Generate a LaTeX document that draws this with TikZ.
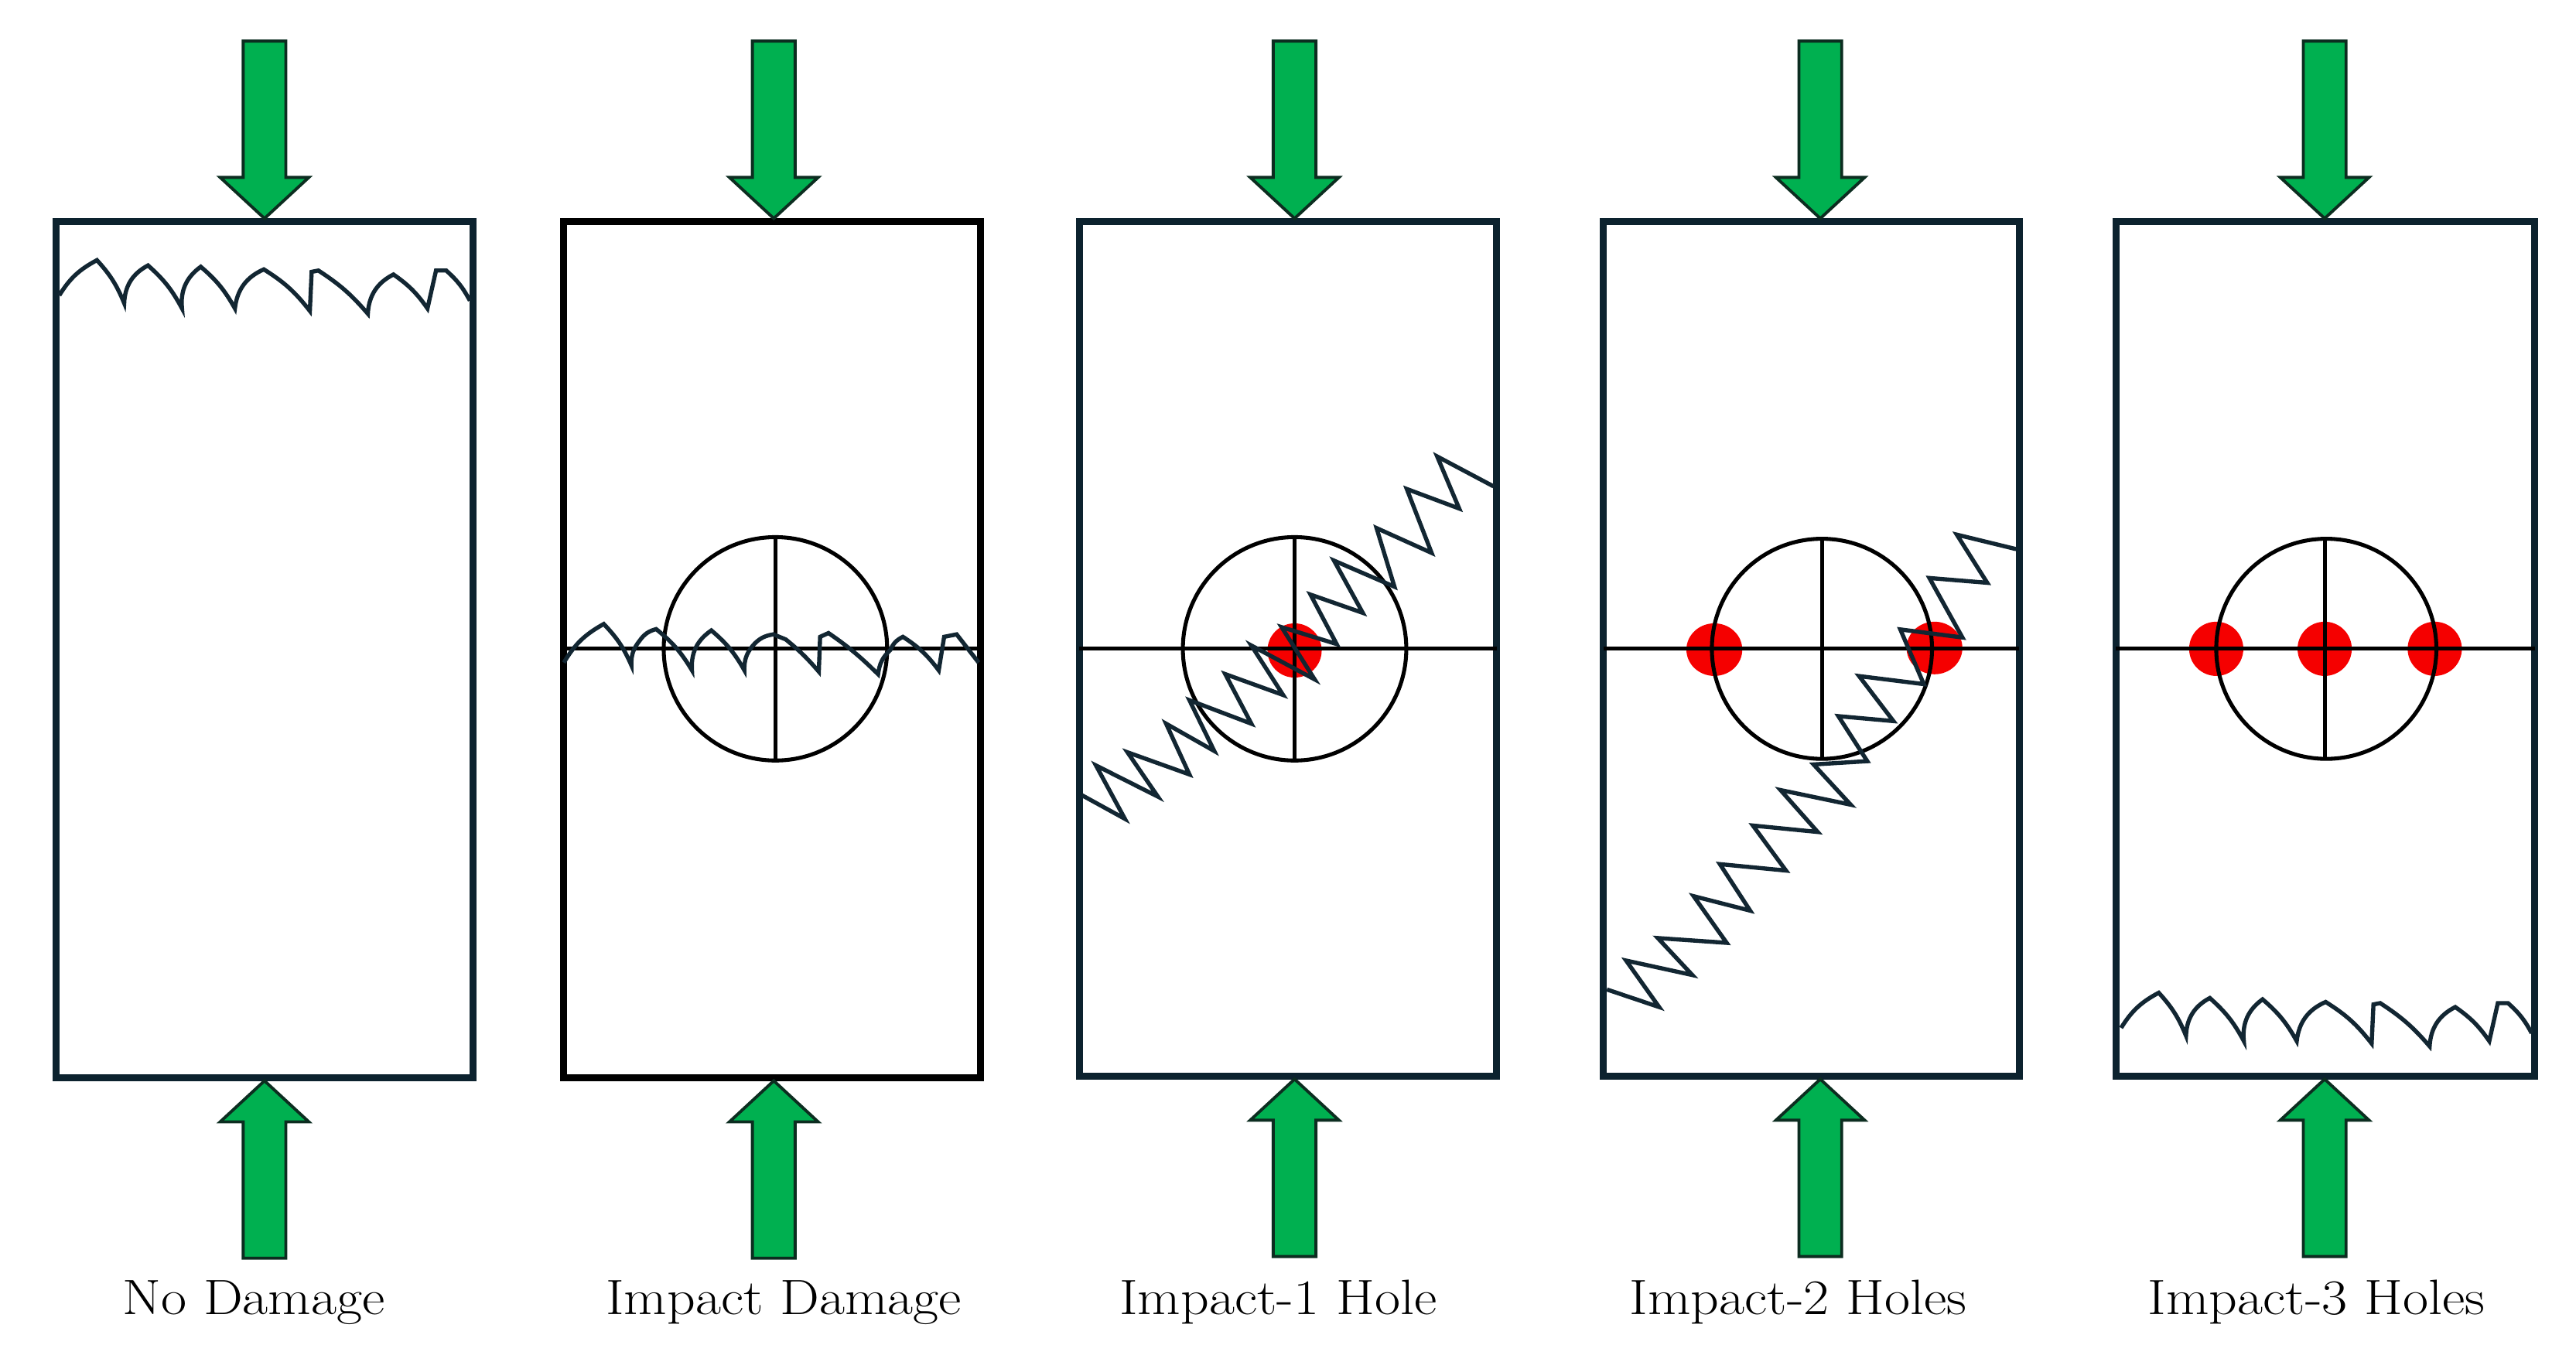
\documentclass[tikz,border=0pt]{standalone}
\usepackage{fontspec}
\definecolor{framec}{RGB}{12,34,46}
\definecolor{crackc}{RGB}{18,38,50}
\definecolor{holec}{RGB}{245,0,0}
\definecolor{arrowg}{RGB}{0,176,80}
\definecolor{arrowd}{RGB}{12,45,32}
\begin{document}
\begin{tikzpicture}[x=0.5mm,y=-0.5mm,
  frame/.style={draw=framec, line width=6pt},
  blackframe/.style={draw=black, line width=6pt},
  cross/.style={draw=black, line width=3.4pt},
  crack/.style={draw=crackc, line width=3.6pt, line join=miter, miter limit=6},
  hole/.style={fill=holec},
  lbl/.style={font=\fontsize{43}{50}\selectfont, anchor=base, inner sep=0pt, xscale=1.12, transform shape},
  pics/loadarrow/.style={code={
    \draw[fill=arrowg, draw=arrowd, line width=2.6pt, line join=miter]
      (0,0) -- (-27,-25) -- (-13,-25) -- (-13,-108) -- (13,-108) -- (13,-25) -- (27,-25) -- cycle;}}
]
\useasboundingbox[fill=white] (0,0) rectangle (1568,829);

% ---------- Panel 1: No Damage ----------
\draw[frame] (34,135) rectangle (288,656);
\draw[crack] (36.1,179.8) to[bend left=15] (59,158.4) to[bend left=10] (75.6,184.6)
  to[bend left=30] (90.1,161.6) to[bend left=10] (110.8,187.8)
  to[bend left=30] (122.2,162.4) to[bend left=10] (143,187.8)
  to[bend left=30] (160.6,164) to[bend left=10] (188.6,189.3)
  -- (189.7,165.5) -- (193.8,164.7) to[bend left=8] (223.9,191)
  to[bend left=30] (239.5,167.1) to[bend left=10] (260.2,187.8)
  -- (265.4,164.7) -- (271.6,164.7) to[bend left=10] (286,183);
\pic at (161,133) {loadarrow};
\pic[rotate=180] at (161,658) {loadarrow};
\node[lbl] (l1) at (154.5,800) {No Damage};

% ---------- Panel 2: Impact Damage ----------
\draw[blackframe] (343,135) rectangle (597,656);
\draw[cross] (343,395) -- (597,395);
\draw[cross] (472,395) circle[radius=68];
\draw[cross] (472,327) -- (472,463);
\draw[crack] (343.2,403.4) to[bend left=15] (367.5,379.9) to[bend left=10] (384.3,405)
  to[bend left=20] (389.3,390.1) to[bend left=20] (399.4,383) to[bend left=10] (421.2,408.1)
  to[bend left=30] (433,383.8) to[bend left=10] (453.1,408.1)
  to[bend left=20] (458.1,393.2) to[bend left=20] (470.7,386.2) -- (478.3,389.3)
  to[bend left=5] (498.4,408.9) -- (499.2,387.7) -- (504.3,385.4)
  to[bend left=5] (534.5,410.5) to[bend left=20] (542,395.6) to[bend left=20] (549.6,387.7)
  to[bend left=10] (571.4,408.1) -- (574.7,387.7) -- (582.3,386.2) -- (595.7,403.4);
\pic at (471,133) {loadarrow};
\pic[rotate=180] at (471,658) {loadarrow};
\node[lbl] (l2) at (477,800) {Impact Damage};

% ---------- Panel 3: Impact-1 Hole ----------
\draw[frame] (657,135) rectangle (911,655);
\fill[hole] (788,396) circle[radius=16.5];
\draw[cross] (657,395) -- (911,395);
\draw[cross] (788,395) circle[radius=68];
\draw[cross] (788,327) -- (788,463);
\draw[crack] (658.7,484.2) -- (684.7,498.5) -- (667.1,466) -- (704.8,485) -- (686.3,458)
  -- (724,471.5) -- (709.8,440.6) -- (739.1,457.2) -- (724,426.3) -- (761.7,440.6)
  -- (745.8,410.4) -- (781,423.1) -- (761.7,393) -- (800.2,413.6) -- (780.1,381.8)
  -- (813.6,392.1) -- (797.7,362) -- (829.5,373.1) -- (812,341.3) -- (848.8,357.2)
  -- (837.9,321.5) -- (871.4,336.6) -- (856.3,297.7) -- (888.2,309.6) -- (874.8,277.9)
  -- (909.1,296.1);
\pic at (788,133) {loadarrow};
\pic[rotate=180] at (788,657) {loadarrow};
\node[lbl] (l3) at (778,800) {Impact-1 Hole};

% ---------- Panel 4: Impact-2 Holes ----------
\draw[frame] (976,135) rectangle (1229,655);
\fill[hole] (1043.5,395.5) ellipse[x radius=17, y radius=16];
\fill[hole] (1177.5,394.5) ellipse[x radius=17, y radius=16];
\draw[cross] (976,395) -- (1229,395);
\draw[cross] (1109,395) circle[radius=67];
\draw[cross] (1109,328) -- (1109,462);
\draw[crack] (978.1,602.4) -- (1009.9,613.1) -- (989.8,584.8) -- (1030.1,593.6) -- (1009.1,571.1)
  -- (1051,574) -- (1030.9,545.6) -- (1065.3,554.4) -- (1046.9,526.1) -- (1087.1,530)
  -- (1067,502.6) -- (1106.4,506.5) -- (1083.8,481) -- (1126.5,489.9) -- (1103.9,465.4)
  -- (1136.6,463.4) -- (1119,436) -- (1152.5,439) -- (1131.6,411.6) -- (1171,416.5)
  -- (1156.7,383.2) -- (1194.5,388.1) -- (1174.4,351.9) -- (1209.6,354.8) -- (1191.1,325.5)
  -- (1227.2,334.3);
\pic at (1108,133) {loadarrow};
\pic[rotate=180] at (1108,657) {loadarrow};
\node[lbl] (l4) at (1094.5,800) {Impact-2 Holes};

% ---------- Panel 5: Impact-3 Holes ----------
\draw[frame] (1288,135) rectangle (1543,655);
\fill[hole] (1349,395) circle[radius=16.5];
\fill[hole] (1415,395) circle[radius=16.5];
\fill[hole] (1482,395) circle[radius=16.5];
\draw[cross] (1288,395) -- (1543,395);
\draw[cross] (1416,395) circle[radius=67];
\draw[cross] (1415,328) -- (1415,462);
\begin{scope}[shift={(1255,446)}]
\draw[crack] (36.1,179.8) to[bend left=15] (59,158.4) to[bend left=10] (75.6,184.6)
  to[bend left=30] (90.1,161.6) to[bend left=10] (110.8,187.8)
  to[bend left=30] (122.2,162.4) to[bend left=10] (143,187.8)
  to[bend left=30] (160.6,164) to[bend left=10] (188.6,189.3)
  -- (189.7,165.5) -- (193.8,164.7) to[bend left=8] (223.9,191)
  to[bend left=30] (239.5,167.1) to[bend left=10] (260.2,187.8)
  -- (265.4,164.7) -- (271.6,164.7) to[bend left=10] (286,183);
\end{scope}
\pic at (1415,133) {loadarrow};
\pic[rotate=180] at (1415,657) {loadarrow};
\node[lbl] (l5) at (1410,800) {Impact-3 Holes};
\end{tikzpicture}
\end{document}
